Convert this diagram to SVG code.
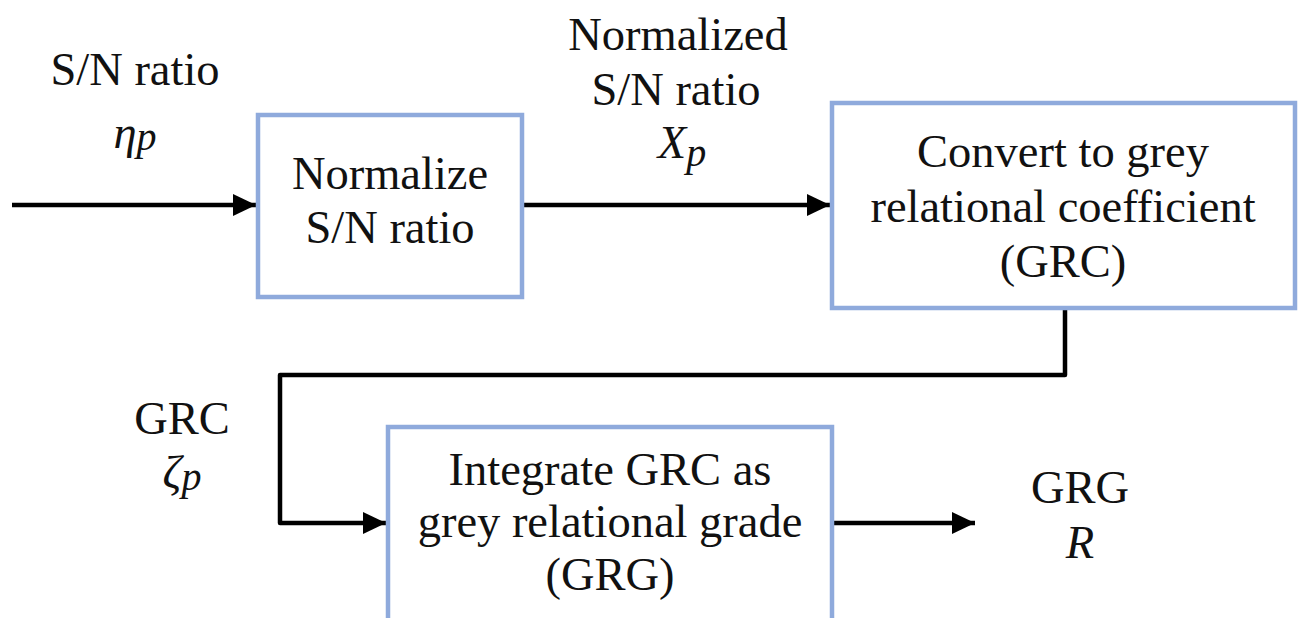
<svg xmlns="http://www.w3.org/2000/svg" width="1302" height="618" viewBox="0 0 1302 618">
<style>
.box{fill:#fff;stroke:#8FAADC;stroke-width:4.5}
.t{font-family:"Liberation Serif","Times New Roman",serif;font-size:46.5px;fill:#111;text-anchor:middle}
.i{font-style:italic}
.sub{font-size:40px;font-style:italic}
.c{fill:none;stroke:#000;stroke-width:4.5;stroke-linejoin:round}
</style>
<defs>
<marker id="ah" markerUnits="userSpaceOnUse" markerWidth="24" markerHeight="24" refX="23" refY="11" orient="auto">
<path d="M0,0 L23,11 L0,22 Z" fill="#000"/>
</marker>
</defs>
<rect width="1302" height="618" fill="#fff"/>
<g id="connectors">
<path class="c" d="M12,205 H256" marker-end="url(#ah)"/>
<path class="c" d="M522,205 H830" marker-end="url(#ah)"/>
<path class="c" d="M1065,310 V375 H280 V523 H386" marker-end="url(#ah)"/>
<path class="c" d="M834,523 H975" marker-end="url(#ah)"/>
</g>
<g id="n1">
<rect class="box" x="258" y="115" width="264" height="182"/>
<text class="t" x="390" y="189">Normalize</text>
<text class="t" x="390" y="243">S/N ratio</text>
</g>
<g id="n2">
<rect class="box" x="832" y="103" width="463" height="205"/>
<text class="t" x="1063" y="167">Convert to grey</text>
<text class="t" x="1063" y="222">relational coefficient</text>
<text class="t" x="1063" y="277">(GRC)</text>
</g>
<g id="n3">
<rect class="box" x="388" y="427" width="444" height="220"/>
<text class="t" x="610" y="485">Integrate GRC as</text>
<text class="t" x="610" y="537">grey relational grade</text>
<text class="t" x="610" y="590">(GRG)</text>
</g>
<g id="l1">
<text class="t" x="135" y="85">S/N ratio</text>
<text class="t" x="135" y="148"><tspan class="i">η</tspan><tspan class="sub" dy="2">p</tspan></text>
</g>
<g id="l2">
<text class="t" x="678" y="50">Normalized</text>
<text class="t" x="676" y="105">S/N ratio</text>
<text class="t" x="682" y="158"><tspan class="i">X</tspan><tspan class="sub" dy="8">p</tspan></text>
</g>
<g id="l3">
<text class="t" x="182" y="434">GRC</text>
<text class="t" x="182" y="488"><tspan class="i">ζ</tspan><tspan class="sub" dy="2">p</tspan></text>
</g>
<g id="l4">
<text class="t" x="1080" y="503">GRG</text>
<text class="t i" x="1080" y="558">R</text>
</g>
</svg>
